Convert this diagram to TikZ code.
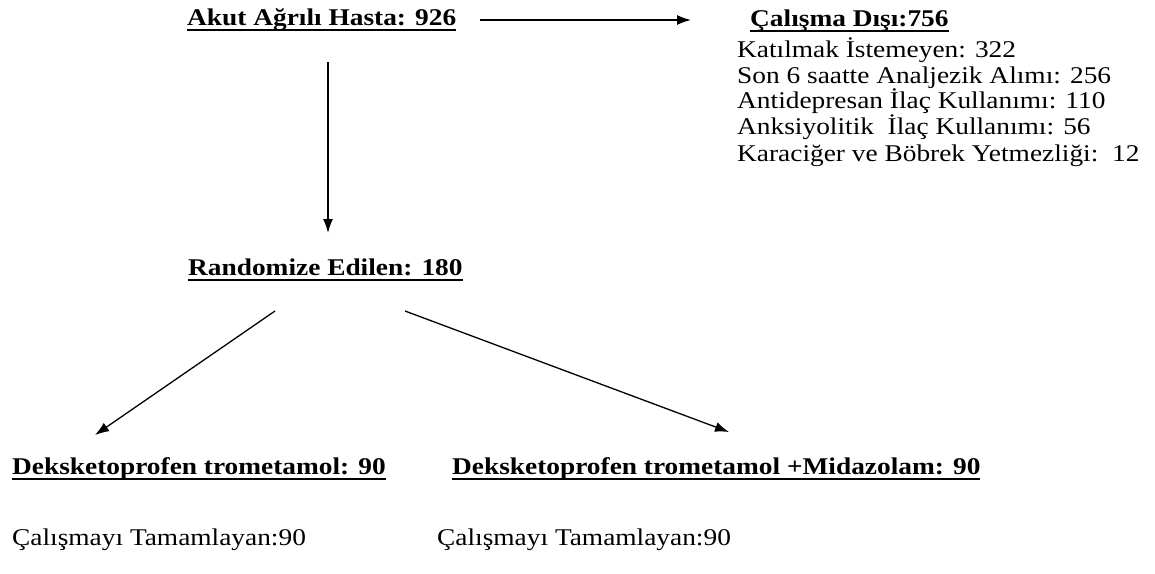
\documentclass[tikz,border=0pt]{standalone}
\usepackage{fontspec}
\setmainfont{Liberation Serif}[FakeStretch=1.14]
\usetikzlibrary{arrows.meta}
\newcommand\myul[1]{\setbox0\hbox{#1}\rlap{\rule[-6pt]{\wd0}{1.6pt}}\box0}
\begin{document}
\begin{tikzpicture}[x=1pt,y=-1pt,
  hd/.style={anchor=base west,inner sep=0pt,font=\fontsize{24}{28}\selectfont\bfseries},
  tx/.style={anchor=base west,inner sep=0pt,font=\fontsize{24}{28}\selectfont},
  arr/.style={line width=1.3pt,-{Latex[length=14pt,width=10pt]}}]
\useasboundingbox (0,0) rectangle (1155,573);
\node[hd] (akut) at (187,25) {\myul{Akut Ağrılı Hasta: 926}};
\node[hd] (cd) at (750,26) {\myul{Çalışma Dışı:756}};
\node[tx] (l1) at (737,57) {Katılmak İstemeyen: 322};
\node[tx] (l2) at (737,83) {Son 6 saatte Analjezik Alımı: 256};
\node[tx] (l3) at (737,108) {Antidepresan İlaç Kullanımı: 110};
\node[tx] (l4) at (737,134) {Anksiyolitik\ \ İlaç Kullanımı: 56};
\node[tx] (l5) at (737,161) {Karaciğer ve Böbrek Yetmezliği:\ \ 12};
\node[hd] (rand) at (188,275) {\myul{Randomize Edilen: 180}};
\node[hd] (g1) at (12,474) {\myul{Deksketoprofen trometamol: 90}};
\node[hd] (g2) at (452,474) {\myul{Deksketoprofen trometamol +Midazolam: 90}};
\node[tx] (c1) at (12,545) {Çalışmayı Tamamlayan:90};
\node[tx] (c2) at (437,545) {Çalışmayı Tamamlayan:90};
\coordinate (h1) at (480,20);
\coordinate (h2) at (691,20);
\coordinate (v1) at (328,62);
\coordinate (v2) at (328,233);
\coordinate (a1) at (275,311);
\coordinate (a2) at (95,435);
\coordinate (b1) at (405,311);
\coordinate (b2) at (729,432);
\draw[arr] (h1) -- (h2);
\draw[arr] (v1) -- (v2);
\draw[arr] (a1) -- (a2);
\draw[arr] (b1) -- (b2);
\end{tikzpicture}
\end{document}
